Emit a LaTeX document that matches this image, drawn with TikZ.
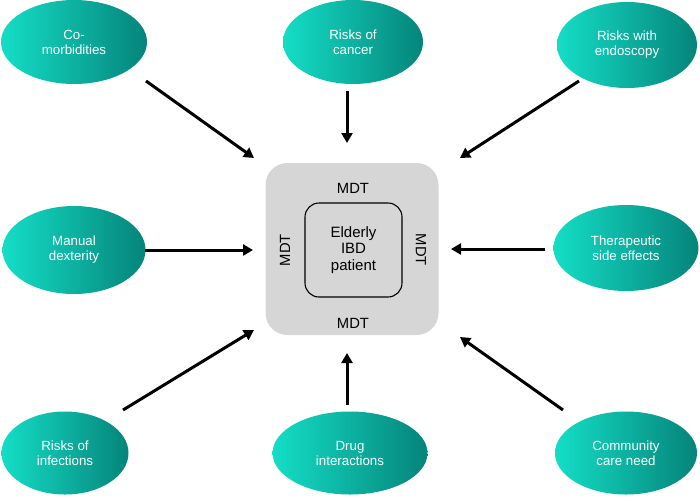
\documentclass[tikz,border=0pt]{standalone}
\usepackage{fontspec}
\setmainfont{Liberation Sans}
\usetikzlibrary{shapes.geometric,arrows.meta}
\definecolor{tealL}{HTML}{14DEC6}
\definecolor{tealR}{HTML}{05847A}
\definecolor{boxgray}{HTML}{D6D6D6}
\tikzset{
  bubble/.style={ellipse, inner sep=0pt, left color=tealL, right color=tealR, draw=none,
    text=white, align=center, font=\fontsize{13.3}{15}\selectfont},
  arr/.style={line width=3pt, -{Triangle[length=10pt,width=11pt]}},
  mdt/.style={font=\fontsize{14.8}{16.5}\selectfont, inner sep=0pt},
}
\begin{document}
\begin{tikzpicture}[x=1pt,y=-1pt]
\useasboundingbox (0,0) rectangle (700,496);
% central boxes
\node[draw=none, fill=boxgray, rounded corners=22pt, minimum width=173pt, minimum height=172pt] (outer) at (352,249) {};
\node[draw=black, line width=1.1pt, rounded corners=14pt, minimum width=97pt, minimum height=94pt,
  align=center, font=\fontsize{15}{16.5}\selectfont] (patient) at (353.5,250) {Elderly\\IBD\\patient};
\node[mdt] (mdtT) at (353,188) {MDT};
\node[mdt] (mdtB) at (353,323) {MDT};
\node[mdt, rotate=90] (mdtL) at (285,250) {MDT};
\node[mdt, rotate=-90] (mdtR) at (421,250) {MDT};
% bubbles
\node[bubble, minimum width=146pt, minimum height=84pt] (como) at (74,42) {Co-\\morbidities};
\node[bubble, minimum width=140pt, minimum height=84pt] (cancer) at (353,42) {Risks of\\cancer};
\node[bubble, minimum width=140pt, minimum height=86pt] (endo) at (627,45) {Risks with\\endoscopy};
\node[bubble, minimum width=143pt, minimum height=88pt] (manual) at (74,250) {Manual\\dexterity};
\node[bubble, minimum width=145pt, minimum height=86pt] (thera) at (626,248) {Therapeutic\\side effects};
\node[bubble, minimum width=127pt, minimum height=83pt] (infect) at (65,453) {Risks of\\infections};
\node[bubble, minimum width=155pt, minimum height=83pt] (drug) at (350,453) {Drug\\interactions};
\node[bubble, minimum width=142pt, minimum height=83pt] (comm) at (626,453) {Community\\care need};
% arrow endpoints
\coordinate (s1) at (146,81);  \coordinate (e1) at (254,158);
\coordinate (s2) at (347,91);  \coordinate (e2) at (347,143);
\coordinate (s3) at (579,81);  \coordinate (e3) at (460,158);
\coordinate (s4) at (145,250); \coordinate (e4) at (253,250);
\coordinate (s5) at (545,249); \coordinate (e5) at (451,249);
\coordinate (s6) at (123,410); \coordinate (e6) at (254,330);
\coordinate (s7) at (347,405); \coordinate (e7) at (347,353);
\coordinate (s8) at (563,410); \coordinate (e8) at (460,337);
\draw[arr] (s1) -- (e1);
\draw[arr] (s2) -- (e2);
\draw[arr] (s3) -- (e3);
\draw[arr] (s4) -- (e4);
\draw[arr] (s5) -- (e5);
\draw[arr] (s6) -- (e6);
\draw[arr] (s7) -- (e7);
\draw[arr] (s8) -- (e8);
\end{tikzpicture}
\end{document}
